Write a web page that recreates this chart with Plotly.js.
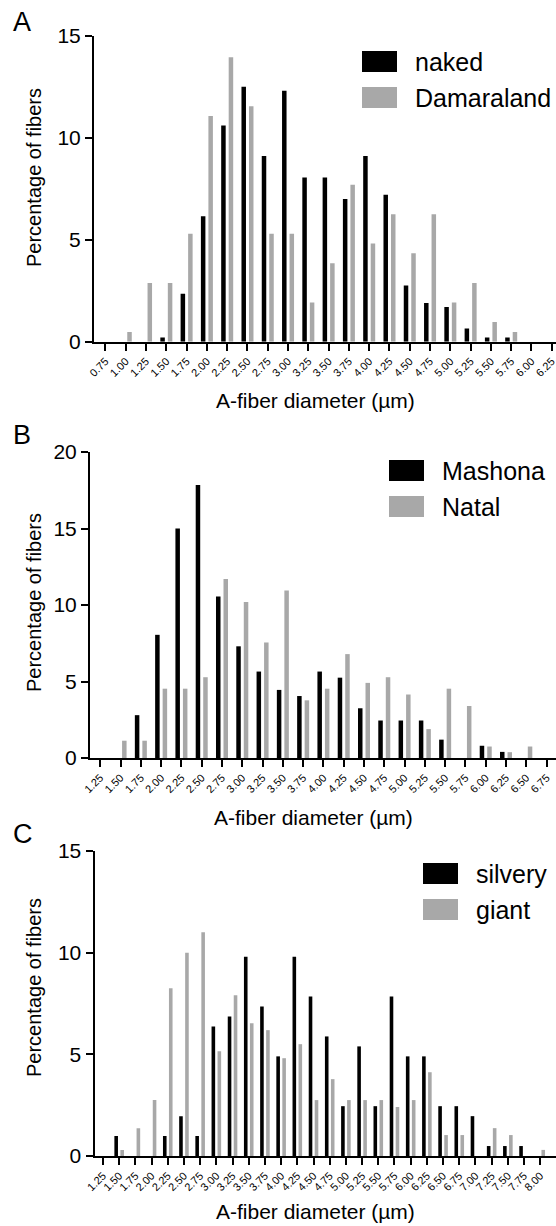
<!DOCTYPE html>
<html><head><meta charset="utf-8">
<script src="https://cdn.plot.ly/plotly-3.0.1.min.js"></script>
<style>body{margin:0;background:#fff}#plot{width:556px;height:1226px}</style>
</head><body><div id="plot"></div>
<script>
// ---------- data ----------
const catsA = ['0.75','1.00','1.25','1.50','1.75','2.00','2.25','2.50','2.75','3.00','3.25','3.50','3.75','4.00','4.25','4.50','4.75','5.00','5.25','5.50','5.75','6.00','6.25'];
const nakedA = [0,0,0,0.2,2.35,6.15,10.6,12.5,9.1,12.3,8.05,8.05,7.0,9.1,7.2,2.75,1.9,1.7,0.65,0.2,0.2,0,0];
const damaraA = [0,0.48,2.88,2.88,5.29,11.06,13.94,11.54,5.29,5.29,1.92,3.85,7.69,4.81,6.25,4.33,6.25,1.92,2.88,0.96,0.48,0,0];

const catsB = ['1.25','1.50','1.75','2.00','2.25','2.50','2.75','3.00','3.25','3.50','3.75','4.00','4.25','4.50','4.75','5.00','5.25','5.50','5.75','6.00','6.25','6.50','6.75'];
const mashonaB = [0,0,2.8,8.05,15.0,17.85,10.55,7.3,5.65,4.45,4.05,5.65,5.25,3.25,2.45,2.45,2.45,1.2,0,0.8,0.4,0,0];
const natalB = [0,1.13,1.13,4.53,4.53,5.28,11.7,10.19,7.55,10.94,3.77,4.53,6.79,4.91,5.28,4.15,1.89,4.53,3.4,0.75,0.38,0.75,0];

const catsC = ['1.25','1.50','1.75','2.00','2.25','2.50','2.75','3.00','3.25','3.50','3.75','4.00','4.25','4.50','4.75','5.00','5.25','5.50','5.75','6.00','6.25','6.50','6.75','7.00','7.25','7.50','7.75','8.00'];
const silveryC = [0,0.98,0,0,0.98,1.96,0.98,6.37,6.86,9.8,7.35,4.9,9.8,7.84,5.88,2.45,5.39,2.45,7.84,4.9,4.9,2.45,2.45,1.96,0.49,0.49,0.49,0];
const giantC = [0,0.3,1.37,2.75,8.25,10.0,11.0,5.15,7.9,6.53,6.19,4.81,5.5,2.75,3.78,2.75,2.75,2.75,2.41,2.75,4.12,1.03,1.03,0,1.37,1.03,0,0.3];

const namesA = ['naked','Damaraland'];
const namesB = ['Mashona','Natal'];
const namesC = ['silvery','giant'];
const colors = ['#000000','#a8a8a8'];
const panelLetters = ['A','B','C'];
const yTitle = 'Percentage of fibers';
const xTitle = 'A-fiber diameter (µm)';

// ---------- layout helpers ----------
const W = 556, H = 1226;
const FONT = 'Liberation Sans, Arial, Helvetica, sans-serif';
const px = v => v / W;
const py = v => 1 - v / H;

const traces = [];
function addPair(cats, a, b, names, xa, ya) {
  [a, b].forEach((vals, i) => traces.push({
    type: 'bar', x: cats, y: vals, name: names[i], xaxis: xa, yaxis: ya,
    marker: {color: colors[i], line: {width: 0}}, showlegend: false, hoverinfo: 'x+y+name'
  }));
}
addPair(catsA, nakedA, damaraA, namesA, 'x', 'y');
addPair(catsB, mashonaB, natalB, namesB, 'x2', 'y2');
addPair(catsC, silveryC, giantC, namesC, 'x3', 'y3');

function xAxis(left, firstTick, step, anchor) {
  return {
    type: 'category', anchor: anchor,
    domain: [px(left + 1), 1],
    range: [(left - firstTick) / step, (W - firstTick) / step],
    showline: true, linewidth: 2, linecolor: '#000',
    ticks: 'outside', ticklen: 7, tickwidth: 2, tickcolor: '#000',
    tickangle: -45, tickfont: {family: FONT, size: 11, color: '#000'},
    showgrid: false, zeroline: false, fixedrange: true
  };
}
function yAxis(top, bottom, max, anchor) {
  return {
    anchor: anchor, domain: [py(bottom - 1), py(top)], range: [0, max], dtick: 5,
    showline: true, linewidth: 2, linecolor: '#000',
    ticks: 'outside', ticklen: 7, tickwidth: 2, tickcolor: '#000',
    tickfont: {family: FONT, size: 21, color: '#000'},
    showgrid: false, zeroline: false, fixedrange: true
  };
}

const shapes = [], annotations = [];
function legend(x0, y0, names, textX) {
  names.forEach((n, i) => {
    const top = y0 + i * 36;
    shapes.push({type: 'rect', xref: 'paper', yref: 'paper', x0: px(x0), x1: px(x0 + 35),
      y0: py(top + 21), y1: py(top), fillcolor: colors[i], line: {width: 0}});
    annotations.push({xref: 'paper', yref: 'paper', x: px(textX), y: py(top + 11), xanchor: 'left', yanchor: 'middle',
      text: n, showarrow: false, font: {family: FONT, size: 25, color: '#000'}});
  });
}
legend(362, 51, namesA, 413);
legend(389, 460, namesB, 440);
legend(423, 863, namesC, 474);

[[22, 0], [435, 1], [834, 2]].forEach(([y, i]) => annotations.push({
  xref: 'paper', yref: 'paper', x: px(11), y: py(y), xanchor: 'left', yanchor: 'middle',
  text: panelLetters[i], showarrow: false, font: {family: FONT, size: 27, color: '#000'}}));

[178, 603, 988].forEach(y => annotations.push({
  xref: 'paper', yref: 'paper', x: px(34), y: py(y), xanchor: 'center', yanchor: 'middle', textangle: -90,
  text: yTitle, showarrow: false, font: {family: FONT, size: 20, color: '#000'}}));

[[315, 401], [313, 817], [315, 1211]].forEach(([x, y]) => annotations.push({
  xref: 'paper', yref: 'paper', x: px(x), y: py(y), xanchor: 'center', yanchor: 'middle',
  text: xTitle, showarrow: false, font: {family: FONT, size: 21, color: '#000'}}));

const layout = {
  width: W, height: H, autosize: false,
  margin: {l: 0, r: 0, t: 0, b: 0, pad: 0},
  paper_bgcolor: '#fff', plot_bgcolor: '#fff',
  barmode: 'group', bargap: 0.26, bargroupgap: 0.4,
  showlegend: false,
  font: {family: FONT, color: '#000'},
  xaxis: xAxis(93, 104.5, 20.33, 'y'),
  yaxis: yAxis(35.7, 342.7, 15, 'x'),
  xaxis2: xAxis(89, 99.3, 20.33, 'y2'),
  yaxis2: yAxis(452, 759, 20, 'x2'),
  xaxis3: xAxis(93.5, 102, 16.23, 'y3'),
  yaxis3: yAxis(851, 1157, 15, 'x3'),
  shapes: shapes, annotations: annotations
};
Plotly.newPlot('plot', traces, layout, {displayModeBar: false, staticPlot: true});
</script></body></html>
